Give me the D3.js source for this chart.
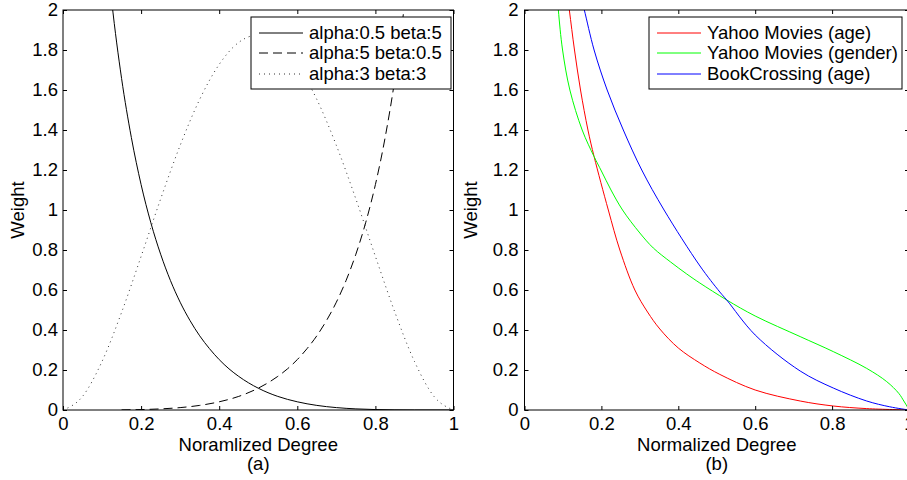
<!DOCTYPE html>
<html>
<head>
<meta charset="utf-8">
<script src="https://cdn.jsdelivr.net/npm/d3@7"></script>
<style>
  body { margin: 0; background: #fff; }
  text { font-family: "Liberation Sans", Arial, sans-serif; }
</style>
</head>
<body>
<div id="chart"></div>
<script>
let xTicks = [0, 0.2, 0.4, 0.6, 0.8, 1];
let yTicks = [0, 0.2, 0.4, 0.6, 0.8, 1, 1.2, 1.4, 1.6, 1.8, 2];

// (a) beta weights
let solidX = [0.1, 0.125, 0.15, 0.175, 0.2, 0.225, 0.25, 0.275, 0.3, 0.325, 0.35, 0.375, 0.4, 0.425, 0.45, 0.475, 0.5, 0.55, 0.6, 0.65, 0.7, 0.75, 0.8, 0.85, 0.9, 1];
let solidY = [2.553, 2.04, 1.658, 1.363, 1.127, 0.936, 0.779, 0.648, 0.539, 0.448, 0.371, 0.307, 0.252, 0.206, 0.168, 0.136, 0.109, 0.068, 0.041, 0.023, 0.012, 0.0056, 0.0022, 0.0007, 0.0001, 0];
let dashedX = [0.15, 0.2, 0.25, 0.3, 0.35, 0.4, 0.45, 0.5, 0.525, 0.55, 0.575, 0.6, 0.625, 0.65, 0.675, 0.7, 0.725, 0.75, 0.775, 0.8, 0.825, 0.85, 0.875, 0.9];
let dashedY = [0.0007, 0.0022, 0.0056, 0.012, 0.023, 0.041, 0.068, 0.109, 0.136, 0.168, 0.206, 0.252, 0.307, 0.371, 0.448, 0.539, 0.648, 0.779, 0.936, 1.127, 1.363, 1.658, 2.04, 2.553];
let dottedX = [0, 0.05, 0.1, 0.15, 0.2, 0.25, 0.3, 0.35, 0.4, 0.45, 0.5, 0.55, 0.6, 0.65, 0.7, 0.75, 0.8, 0.85, 0.9, 0.95, 1];
let dottedY = [0, 0.068, 0.243, 0.488, 0.768, 1.055, 1.323, 1.553, 1.728, 1.838, 1.875, 1.838, 1.728, 1.553, 1.323, 1.055, 0.768, 0.488, 0.243, 0.068, 0];
let labelsA = ["alpha:0.5 beta:5", "alpha:5 beta:0.5", "alpha:3 beta:3"];

// (b) dataset weights
let ageX = [0.108, 0.1166, 0.13, 0.1457, 0.165, 0.181, 0.218, 0.248, 0.287, 0.32, 0.352, 0.4, 0.456, 0.508, 0.6, 0.717, 0.803, 0.89, 1];
let ageY = [2.13, 2.0, 1.8, 1.6, 1.4, 1.267, 1.0, 0.8, 0.6, 0.49, 0.405, 0.31, 0.235, 0.178, 0.1, 0.045, 0.02, 0.007, 0];
let genderX = [0.084, 0.088, 0.099, 0.118, 0.15, 0.181, 0.2, 0.225, 0.255, 0.3, 0.335, 0.38, 0.422, 0.456, 0.526, 0.6, 0.717, 0.803, 0.89, 0.942, 0.9735, 0.9865, 0.996, 1];
let genderY = [2.1, 2.0, 1.8, 1.6, 1.4, 1.267, 1.195, 1.1, 1.0, 0.885, 0.81, 0.74, 0.68, 0.635, 0.55, 0.47, 0.367, 0.292, 0.208, 0.142, 0.083, 0.045, 0.015, 0];
let bookX = [0.149, 0.1556, 0.181, 0.215, 0.257, 0.305, 0.363, 0.4564, 0.508, 0.526, 0.6, 0.717, 0.803, 0.89, 0.95, 1];
let bookY = [2.05, 2.0, 1.8, 1.6, 1.4, 1.2, 1.0, 0.72, 0.59, 0.55, 0.375, 0.195, 0.11, 0.045, 0.016, 0];
let labelsB = ["Yahoo Movies (age)", "Yahoo Movies (gender)", "BookCrossing (age)"];

let width = 907, height = 480;
let plotTop = 10, plotBottom = 410;

let svg = d3.select("#chart")
.append("svg")
.attr("width", width)
.attr("height", height)
.style("background", "#fff");

let fmt = d3.format("~g");

let panels = [
  {
    id: "a", left: 63, right: 453.5, yPad: 5, yLabelX: 18,
    xLabel: "Noramlized Degree", sub: "(a)",
    curve: d3.curveMonotoneX,
    series: [
      {x: solidX, y: solidY, color: "#000", dash: null},
      {x: dashedX, y: dashedY, color: "#000", dash: "9,5"},
      {x: dottedX, y: dottedY, color: "#333", dash: "1,4"}
    ],
    labels: labelsA,
    legend: {x0: 251, x1: 451, y0: 17, y1: 89}
  },
  {
    id: "b", left: 524.5, right: 909, yPad: 6, yLabelX: 471,
    xLabel: "Normalized Degree", sub: "(b)",
    curve: d3.curveCatmullRom.alpha(0.5),
    series: [
      {x: ageX, y: ageY, color: "#f00", dash: null},
      {x: genderX, y: genderY, color: "#0f0", dash: null},
      {x: bookX, y: bookY, color: "#00f", dash: null}
    ],
    labels: labelsB,
    legend: {x0: 649, x1: 902, y0: 17, y1: 89}
  }
];

panels.forEach(p => {
  let x = d3.scaleLinear().domain([0, 1]).range([p.left, p.right]);
  let y = d3.scaleLinear().domain([0, 2]).range([plotBottom, plotTop]);
  let g = svg.append("g").classed("panel-" + p.id, true);

  g.append("clipPath").attr("id", "clip-" + p.id)
  .append("rect")
  .attr("x", p.left).attr("y", plotTop)
  .attr("width", p.right - p.left).attr("height", plotBottom - plotTop);

  let line = d3.line()
  .x(d => x(d[0]))
  .y(d => y(d[1]))
  .curve(p.curve);

  let curves = g.append("g").attr("clip-path", "url(#clip-" + p.id + ")");
  p.series.forEach(s => {
    curves.append("path")
    .datum(d3.zip(s.x, s.y))
    .attr("d", line)
    .attr("fill", "none")
    .attr("stroke", s.color)
    .attr("stroke-width", 1)
    .attr("stroke-dasharray", s.dash);
  });

  // axes with inward ticks on all four sides
  let styleAxis = a => {
    a.select(".domain").remove();
    a.selectAll("line").attr("stroke", "#000");
    a.selectAll("text").attr("fill", "#000")
    .style("font-family", "'Liberation Sans', Arial, sans-serif")
    .style("font-size", "18.5px");
  };

  g.append("g").attr("transform", "translate(0," + plotBottom + ")")
  .call(d3.axisBottom(x).tickValues(xTicks).tickFormat(fmt).tickSizeInner(-4).tickSizeOuter(0).tickPadding(7))
  .call(styleAxis);
  g.append("g").attr("transform", "translate(0," + plotTop + ")")
  .call(d3.axisTop(x).tickValues(xTicks).tickFormat("").tickSizeInner(-4).tickSizeOuter(0))
  .call(styleAxis);
  g.append("g").attr("transform", "translate(" + p.left + ",0)")
  .call(d3.axisLeft(y).tickValues(yTicks).tickFormat(fmt).tickSizeInner(-4).tickSizeOuter(0).tickPadding(p.yPad))
  .call(styleAxis);
  g.append("g").attr("transform", "translate(" + p.right + ",0)")
  .call(d3.axisRight(y).tickValues(yTicks).tickFormat("").tickSizeInner(-4).tickSizeOuter(0))
  .call(styleAxis);

  g.append("rect")
  .attr("x", p.left).attr("y", plotTop)
  .attr("width", p.right - p.left).attr("height", plotBottom - plotTop)
  .attr("fill", "none").attr("stroke", "#000").attr("stroke-width", 1);

  let cx = (p.left + p.right) / 2;
  g.append("text").attr("x", cx).attr("y", 451)
  .attr("text-anchor", "middle").attr("font-size", 18.5).text(p.xLabel);
  g.append("text").attr("x", cx).attr("y", 470)
  .attr("text-anchor", "middle").attr("font-size", 18.5).text(p.sub);
  g.append("text")
  .attr("transform", "translate(" + (p.yLabelX + 6) + "," + ((plotTop + plotBottom) / 2) + ") rotate(-90)")
  .attr("text-anchor", "middle").attr("font-size", 18.5).text("Weight");

  // legend
  let L = p.legend;
  let leg = g.append("g");
  leg.append("rect")
  .attr("x", L.x0).attr("y", L.y0)
  .attr("width", L.x1 - L.x0).attr("height", L.y1 - L.y0)
  .attr("fill", "#fff").attr("stroke", "#000").attr("stroke-width", 1);
  let rows = [33, 53, 74];
  p.series.forEach((s, i) => {
    leg.append("line")
    .attr("x1", L.x0 + 8).attr("x2", L.x0 + 52)
    .attr("y1", rows[i]).attr("y2", rows[i])
    .attr("stroke", s.color).attr("stroke-width", 1)
    .attr("stroke-dasharray", s.dash);
    leg.append("text")
    .attr("x", L.x0 + 58).attr("y", rows[i])
    .attr("dy", "0.35em").attr("font-size", 18.5)
    .text(p.labels[i]);
  });
});
</script>
</body>
</html>
